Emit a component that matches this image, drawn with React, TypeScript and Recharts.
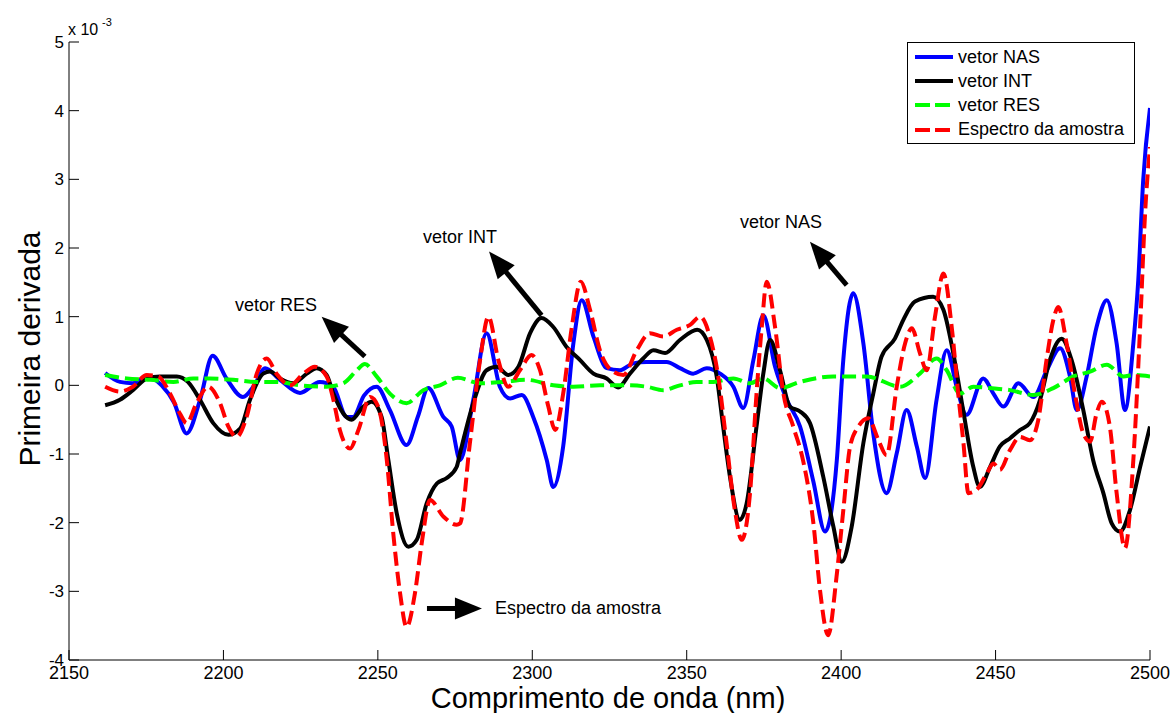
import { LineChart, Line, XAxis, YAxis, Legend, ReferenceLine, ReferenceDot } from "recharts";

const FONT = '"Liberation Sans", Arial, Helvetica, sans-serif';

const xTicks = [2150, 2200, 2250, 2300, 2350, 2400, 2450, 2500];
const yTicks = [-4, -3, -2, -1, 0, 1, 2, 3, 4, 5];

// [comprimento de onda (nm), primeira derivada (x 10^-3)]
const nasPoints: [number, number][] = [
    [2161.7, 0.18], [2166.5, 0.05], [2170.7, 0.03], [2175.3, 0.13], [2180, 0.0], [2184, -0.25],
    [2188.1, -0.7], [2192.5, -0.2], [2196.5, 0.43], [2201, 0.1], [2206.3, -0.17], [2210, 0.0],
    [2213.5, 0.25], [2218.3, 0.08], [2224.8, -0.11], [2231.2, 0.05], [2235.5, -0.02], [2239.9, -0.46],
    [2242, -0.46], [2245.5, -0.15], [2249.6, -0.02], [2253.9, -0.36], [2259.3, -0.87], [2263, -0.45],
    [2266.3, -0.04], [2271.2, -0.46], [2273.9, -0.6], [2276.6, -1.09], [2280.9, -0.21], [2285.2, 0.76],
    [2289.5, -0.02], [2292.8, -0.19], [2296.6, -0.14], [2300.3, -0.46], [2304.7, -1.09], [2306.8, -1.48],
    [2310, -0.89], [2313.3, 0.61], [2316, 1.24], [2319.8, 0.71], [2324.1, 0.25], [2328.4, 0.22],
    [2332.7, 0.32], [2337, 0.34], [2343.5, 0.34], [2347.8, 0.25], [2352.1, 0.17], [2356.5, 0.25],
    [2360.8, 0.17], [2365.1, -0.02], [2368.3, -0.33], [2371.6, 0.37], [2374.8, 1.02], [2378.6, 0.27],
    [2382.4, -0.21], [2386.7, -0.6], [2391, -1.4], [2394.8, -2.13], [2398.6, -1.09], [2400.7, 0.37],
    [2403.9, 1.34], [2407.2, 0.61], [2410.4, -0.7], [2414.7, -1.57], [2418, -0.99], [2421.2, -0.36],
    [2424.5, -0.89], [2427.2, -1.35], [2430.9, -0.21], [2434.2, 0.51], [2437.4, -0.02], [2440.6, -0.43],
    [2446, 0.1], [2449.3, -0.12], [2452.5, -0.31], [2457.4, 0.03], [2462.2, -0.17], [2466.6, 0.22],
    [2470.9, 0.54], [2474.1, 0.13], [2476.3, -0.36], [2479.5, 0.13], [2482.7, 0.85], [2486, 1.24],
    [2489.2, 0.61], [2491.9, -0.36], [2494.6, 0.61], [2496.2, 1.53], [2497.8, 2.99], [2500, 4.04],
];

const intPoints: [number, number][] = [
    [2161.7, -0.29], [2166.5, -0.21], [2170.7, -0.07], [2175.3, 0.1], [2179.5, 0.13], [2184.9, 0.13],
    [2188.5, 0.05], [2192.4, -0.21], [2196.7, -0.55], [2201.6, -0.72], [2205.4, -0.63], [2208.6, -0.21],
    [2212.9, 0.17], [2215.1, 0.2], [2218.3, 0.1], [2222.6, 0.03], [2227, 0.17], [2230.2, 0.25],
    [2233.4, 0.15], [2235.6, -0.12], [2238.8, -0.41], [2241.5, -0.5], [2245.3, -0.31], [2248, -0.24],
    [2251.2, -0.46], [2253.4, -1.09], [2256.1, -1.86], [2259.9, -2.35], [2262.6, -2.25], [2265.8, -1.72],
    [2269.1, -1.43], [2272.3, -1.35], [2275.5, -1.19], [2276.6, -0.99], [2280.9, -0.26], [2285.2, 0.22],
    [2288.5, 0.27], [2292.2, 0.15], [2295.5, 0.27], [2299.3, 0.76], [2303, 0.98], [2306.8, 0.85],
    [2311.1, 0.56], [2315.4, 0.37], [2319.8, 0.17], [2324.1, 0.1], [2327.8, -0.03], [2331.6, 0.17],
    [2335.9, 0.39], [2339.2, 0.51], [2343, 0.47], [2347.8, 0.66], [2353.4, 0.81], [2356.5, 0.66],
    [2359.7, 0.13], [2361.8, -0.6], [2364, -1.33], [2367.2, -1.96], [2369.4, -1.72], [2372.6, -0.6],
    [2374.8, 0.17], [2377, 0.66], [2380.2, 0.22], [2383.4, -0.31], [2386.7, -0.38], [2389.9, -0.55],
    [2394.2, -1.33], [2397.5, -2.06], [2400.2, -2.57], [2403.4, -2.06], [2407.2, -0.84], [2410.4, -0.12],
    [2413.1, 0.42], [2417.4, 0.68], [2420.1, 0.95], [2423.9, 1.22], [2429.8, 1.29], [2433.1, 1.1],
    [2436.3, 0.47], [2439.5, -0.36], [2442.8, -1.19], [2444.9, -1.48], [2448.2, -1.19], [2451.4, -0.89],
    [2454.7, -0.77], [2457.9, -0.65], [2461.1, -0.55], [2464.4, -0.21], [2467.6, 0.37], [2471.4, 0.68],
    [2474.6, 0.37], [2478.4, -0.36], [2481.6, -1.09], [2484.9, -1.57], [2487.6, -2.01], [2490.3, -2.13],
    [2493.5, -1.82], [2496.8, -1.19], [2500, -0.6],
];

const resPoints: [number, number][] = [
    [2161.7, 0.15], [2168.7, 0.1], [2176.2, 0.08], [2183.8, 0.05], [2190.2, 0.1], [2195.7, 0.1],
    [2203.2, 0.08], [2210.8, 0.05], [2217.2, 0.05], [2224.8, 0.0], [2233.4, -0.02], [2238.8, 0.03],
    [2243.2, 0.22], [2245.8, 0.31], [2249.6, 0.13], [2253.9, -0.12], [2259.3, -0.26], [2264.7, -0.07],
    [2270.1, 0.0], [2275.9, 0.11], [2283.1, 0.03], [2290.6, 0.05], [2298.2, 0.08], [2306.8, 0.0],
    [2313.3, -0.02], [2321.9, 0.0], [2330.6, 0.0], [2337, -0.02], [2342.4, -0.07], [2347.8, 0.0],
    [2353.2, 0.05], [2358.6, 0.05], [2365.1, 0.1], [2370.5, 0.03], [2374.8, 0.1], [2380.2, -0.04],
    [2386.7, 0.05], [2397.5, 0.13], [2408.3, 0.13], [2419.1, -0.02], [2425.5, 0.17], [2430.9, 0.39],
    [2434.2, 0.22], [2438.5, -0.12], [2442.8, -0.02], [2448.2, -0.04], [2454.7, -0.07], [2462.2, -0.14],
    [2468.7, -0.04], [2475.2, 0.13], [2480.6, 0.2], [2486, 0.3], [2491.4, 0.13], [2494.6, 0.15],
    [2500, 0.13],
];

const amostraPoints: [number, number][] = [
    [2161.7, -0.02], [2166.5, -0.09], [2170.7, -0.02], [2175.2, 0.15], [2178.9, 0.13], [2182.7, -0.12],
    [2185.9, -0.41], [2188.1, -0.55], [2191.3, -0.26], [2195.1, -0.02], [2198.9, -0.26], [2201.6, -0.6],
    [2204.3, -0.75], [2207.5, -0.46], [2210.8, 0.17], [2214, 0.39], [2217.2, 0.17], [2221.6, 0.0],
    [2225.9, 0.17], [2229.6, 0.27], [2233.4, 0.13], [2235.6, -0.21], [2237.7, -0.65], [2241, -0.92],
    [2243.7, -0.65], [2247.5, -0.17], [2250.1, -0.31], [2252.9, -1.09], [2255, -2.16], [2257.2, -3.03],
    [2259.3, -3.52], [2262, -3.03], [2264.2, -2.3], [2266.9, -1.67], [2271.2, -1.91], [2275.5, -2.03],
    [2276.6, -2.01], [2279.8, -0.84], [2283.1, 0.37], [2285.8, 1.0], [2289, 0.37], [2292.2, -0.02],
    [2296, 0.22], [2299.8, 0.44], [2302.5, 0.22], [2305.2, -0.31], [2307.4, -0.65], [2310, -0.12],
    [2312.8, 0.85], [2315.7, 1.51], [2318.7, 1.1], [2321.9, 0.51], [2326.2, 0.2], [2329.5, 0.15],
    [2333.8, 0.51], [2338.1, 0.76], [2342.4, 0.71], [2346.8, 0.81], [2351.1, 0.88], [2354.3, 1.0],
    [2357.5, 0.71], [2360.2, 0.13], [2362.9, -0.84], [2365.6, -1.82], [2367.8, -2.25], [2370.5, -1.57],
    [2372.6, -0.12], [2374.3, 0.85], [2375.9, 1.51], [2378.6, 0.85], [2381.3, -0.12], [2384.5, -0.6],
    [2387.7, -1.1], [2391, -2.0], [2393.2, -3.0], [2395.8, -3.64], [2398.5, -2.79], [2400.7, -1.82],
    [2402.9, -0.89], [2405.6, -0.6], [2408.8, -0.48], [2412.1, -0.8], [2414.7, -1.02], [2418, -0.02],
    [2420.7, 0.61], [2422.9, 0.83], [2425.5, 0.47], [2427.7, 0.22], [2430.4, 1.0], [2433.1, 1.63],
    [2435.8, 0.85], [2437.9, -0.12], [2439.6, -0.84], [2441.2, -1.57], [2443.9, -1.52], [2447.2, -1.28],
    [2449.3, -1.14], [2451.4, -1.23], [2454.7, -0.94], [2457.9, -0.75], [2461.1, -0.8], [2463.8, -0.51],
    [2466.5, 0.37], [2468.7, 0.95], [2470.3, 1.14], [2473, 0.61], [2475.7, -0.12], [2478.4, -0.7],
    [2480.6, -0.82], [2482.7, -0.41], [2484.4, -0.24], [2487, -0.6], [2489.2, -1.57], [2491.9, -2.37],
    [2494.6, -1.09], [2496.8, 0.85], [2498.4, 2.5], [2500, 3.47],
];

const toRows = (pts: [number, number][]) => pts.map(([x, y]) => ({ x, y }));

const SERIES = [
    { name: "vetor NAS", data: toRows(nasPoints), color: "#0000ff", dash: undefined },
    { name: "vetor INT", data: toRows(intPoints), color: "#000000", dash: undefined },
    { name: "vetor RES", data: toRows(resPoints), color: "#00ff00", dash: "14 6" },
    { name: "Espectro da amostra", data: toRows(amostraPoints), color: "#ff0000", dash: "14 6" },
];

// annotation arrows: [tail, tip] in data coordinates
const ARROWS = [
    { from: { x: 2245.8, y: 0.42 }, to: { x: 2231.8, y: 1.0 } },
    { from: { x: 2303, y: 1.02 }, to: { x: 2286, y: 1.95 } },
    { from: { x: 2401.8, y: 1.46 }, to: { x: 2389.9, y: 2.09 } },
    { from: { x: 2265.9, y: -3.25 }, to: { x: 2283.7, y: -3.25 } },
];

const NOTES = [
    { text: "vetor RES", x: 2217, y: 1.17, anchor: "middle" },
    { text: "vetor INT", x: 2276.6, y: 2.16, anchor: "middle" },
    { text: "vetor NAS", x: 2380.5, y: 2.38, anchor: "middle" },
    { text: "Espectro da amostra", x: 2287.9, y: -3.24, anchor: "start" },
];

function Arrow(props: any) {
    const { x1, y1, x2, y2 } = props;
    const dx = x2 - x1;
    const dy = y2 - y1;
    const len = Math.hypot(dx, dy) || 1;
    const ux = dx / len;
    const uy = dy / len;
    const head = 27;
    const half = 11;
    const bx = x2 - ux * head;
    const by = y2 - uy * head;
    const pts = `${x2},${y2} ${bx - uy * half},${by + ux * half} ${bx + uy * half},${by - ux * half}`;
    return (
        <g>
            <line x1={x1} y1={y1} x2={bx + ux * 3} y2={by + uy * 3} stroke="#000" strokeWidth={5} />
            <polygon points={pts} fill="#000" />
        </g>
    );
}

const renderLegend = () => (
    <div
        style={{
            width: 228,
            height: 102,
            boxSizing: "border-box",
            border: "1px solid #000",
            background: "#fff",
            paddingTop: 2,
            fontFamily: FONT,
        }}
    >
        {SERIES.map((s) => (
            <div key={s.name} style={{ display: "flex", alignItems: "center", height: 24.2 }}>
                <svg width={38} height={6} style={{ marginLeft: 7 }}>
                    <line x1={0} y1={3} x2={38} y2={3} stroke={s.color} strokeWidth={4} strokeDasharray={s.dash ? "15 5" : undefined} />
                </svg>
                <span style={{ marginLeft: 5, fontSize: 18, color: "#000", whiteSpace: "nowrap" }}>{s.name}</span>
            </div>
        ))}
    </div>
);

export default function App() {
    return (
        <div style={{ position: "absolute", left: 0, top: 0, width: 1172, height: 713, background: "#fff", fontFamily: FONT }}>
            <LineChart width={1172} height={713} margin={{ top: 42, right: 22, left: 0, bottom: 0 }}>
                <XAxis
                    dataKey="x"
                    type="number"
                    domain={[2150, 2500]}
                    ticks={xTicks}
                    allowDataOverflow
                    height={53}
                    axisLine={{ stroke: "#000" }}
                    tickLine={{ stroke: "#000" }}
                    tickSize={-10}
                    tickMargin={16}
                    tick={{ fill: "#000", fontSize: 18, fontFamily: FONT }}
                />
                <XAxis
                    xAxisId="top"
                    orientation="top"
                    dataKey="x"
                    type="number"
                    domain={[2150, 2500]}
                    ticks={xTicks}
                    allowDataOverflow
                    height={0}
                    axisLine={{ stroke: "#000" }}
                    tickLine={{ stroke: "#000" }}
                    tickSize={-10}
                    tick={false}
                />
                <YAxis
                    type="number"
                    domain={[-4, 5]}
                    ticks={yTicks}
                    allowDataOverflow
                    width={69}
                    axisLine={{ stroke: "#000" }}
                    tickLine={{ stroke: "#000" }}
                    tickSize={-10}
                    tickMargin={15}
                    tick={{ fill: "#000", fontSize: 17, fontFamily: FONT }}
                />
                <YAxis
                    yAxisId="right"
                    orientation="right"
                    type="number"
                    domain={[-4, 5]}
                    ticks={yTicks}
                    allowDataOverflow
                    width={0}
                    axisLine={{ stroke: "#000" }}
                    tickLine={{ stroke: "#000" }}
                    tickSize={-10}
                    tick={false}
                />
                <Legend
                    layout="horizontal"
                    verticalAlign="middle"
                    align="center"
                    content={renderLegend}
                    wrapperStyle={{ top: 42, left: 907, width: 228, height: 102 }}
                />
                {SERIES.map((s) => (
                    <Line
                        key={s.name}
                        data={s.data}
                        dataKey="y"
                        name={s.name}
                        type="monotone"
                        stroke={s.color}
                        strokeWidth={4}
                        strokeDasharray={s.dash}
                        dot={false}
                        activeDot={false}
                        isAnimationActive={false}
                    />
                ))}
                {ARROWS.map((a, i) => (
                    <ReferenceLine key={"arrow" + i} segment={[a.from, a.to]} shape={Arrow} ifOverflow="visible" />
                ))}
                {NOTES.map((n) => (
                    <ReferenceDot
                        key={n.text}
                        x={n.x}
                        y={n.y}
                        r={0}
                        ifOverflow="visible"
                        shape={(p: any) => (
                            <text x={p.cx} y={p.cy} dy={6} textAnchor={n.anchor} fontSize={18} fontFamily={FONT} fill="#000">
                                {n.text}
                            </text>
                        )}
                    />
                ))}
                <text x={68} y={35} fontSize={16} fontFamily={FONT} fill="#000">x 10</text>
                <text x={102} y={26} fontSize={11} fontFamily={FONT} fill="#000">-3</text>
                <text x={608} y={708} textAnchor="middle" fontSize={29} fontFamily={FONT} fill="#000">
                    Comprimento de onda (nm)
                </text>
                <text x={40} y={349} textAnchor="middle" fontSize={30} fontFamily={FONT} fill="#000" transform="rotate(-90 40 349)">
                    Primeira derivada
                </text>
            </LineChart>
        </div>
    );
}
